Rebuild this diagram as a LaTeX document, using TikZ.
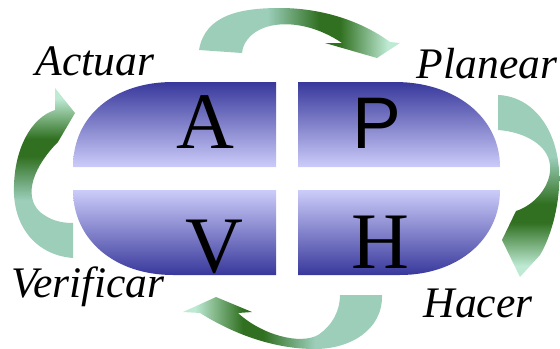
\documentclass[tikz,border=0pt]{standalone}
\usepackage{fontspec}
\setmainfont{Liberation Serif}
\newfontfamily\pdcasans{Liberation Sans}
\definecolor{quaddark}{RGB}{56,56,156}
\definecolor{quadlight}{RGB}{204,204,250}
\definecolor{arrmint}{RGB}{156,206,186}
\definecolor{arrdark}{RGB}{48,112,32}
\definecolor{arrtip}{RGB}{190,234,212}
\pgfdeclarehorizontalshading{arrowfade}{100bp}{color(0bp)=(arrmint); color(42bp)=(arrmint); color(55bp)=(arrdark); color(60bp)=(arrdark); color(72bp)=(arrtip); color(100bp)=(arrtip)}
\begin{document}
\begin{tikzpicture}[x=0.025cm, y=-0.025cm,
    upquad/.style={top color=quaddark, bottom color=quadlight},
    downquad/.style={top color=quadlight, bottom color=quaddark},
    letter/.style={anchor=base, font=\fontsize{57}{57}\selectfont},
    lbl/.style={anchor=base, font=\fontsize{31}{31}\selectfont\itshape},
    turn/.style={shading=arrowfade}]
  \useasboundingbox (0,0) rectangle (560,349);
  % the four quadrants
  \shade[upquad] (73,167) .. controls (73,115) and (115,82) .. (173,82) -- (276,82) -- (276,167) -- cycle;
  \shade[upquad] (298,82) -- (395,82) .. controls (455,82) and (500,117) .. (500,167) -- (298,167) -- cycle;
  \shade[downquad] (73,190) .. controls (73,240) and (115,275) .. (173,275) -- (276,275) -- (276,190) -- cycle;
  \shade[downquad] (298,190) -- (500,190) .. controls (500,240) and (457,275) .. (400,275) -- (298,275) -- cycle;
  \node[letter] (qa) at (205,148) {A};
  \node[letter, font=\fontsize{52}{52}\selectfont\pdcasans] (qp) at (377,148) {P};
  \node[letter] (qv) at (214,272) {V};
  \node[letter] (qh) at (380,268) {H};
  % arrows round the cycle
  \shade[turn, shading angle=0] (199,50) .. controls (205,15) and (240,8) .. (280,8)
    .. controls (320,8) and (360,20) .. (390,42) -- (400,43) -- (377,58) -- (325,43) -- (342,43)
    .. controls (320,28) and (295,22) .. (275,25) .. controls (255,28) and (243,40) .. (242,53) -- cycle;
  \shade[turn, shading angle=-90] (498,95) .. controls (530,96) and (556,125) .. (559,170)
    .. controls (561,200) and (552,235) .. (540,255) -- (520,277) -- (502,240) -- (516,211)
    .. controls (535,205) and (552,185) .. (550,165) .. controls (548,145) and (525,132) .. (498,130) -- cycle;
  \shade[turn, shading angle=180] (382,295) .. controls (383,330) and (350,349) .. (315,349)
    .. controls (280,349) and (240,338) .. (200,313) -- (183,312) -- (216,297) -- (252,312) -- (238,313)
    .. controls (262,335) and (300,345) .. (318,335) .. controls (333,325) and (340,310) .. (340,295) -- cycle;
  \shade[turn, shading angle=90] (73,258) .. controls (35,255) and (12,225) .. (14,185)
    .. controls (15,150) and (30,118) .. (55,110) -- (55,88) -- (75,113) -- (58,142)
    .. controls (35,165) and (22,195) .. (40,212) .. controls (50,220) and (60,223) .. (73,223) -- cycle;
  % labels
  \node[lbl] (actuar) at (95,75) {Actuar};
  \node[lbl] (planear) at (487,78) {Planear};
  \node[lbl] (verificar) at (88,297) {Verificar};
  \node[lbl] (hacer) at (478,317) {Hacer};
\end{tikzpicture}
\end{document}
